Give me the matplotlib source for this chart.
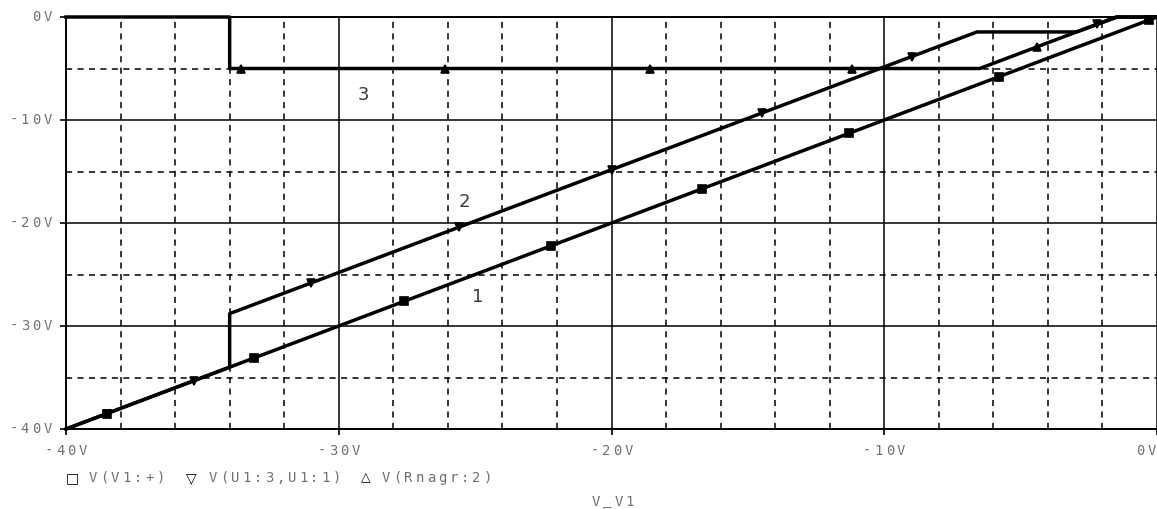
import numpy as np
import matplotlib
matplotlib.use("Agg")
import matplotlib.pyplot as plt
from matplotlib.ticker import MultipleLocator

# traza 1: V(V1:+)
x1 = [-40, 0]
y1 = [-40, 0]
# traza 2: V(U1:3,U1:1)
x2 = [-40, -34, -34, -6.6, -2.95, -1.45, 0]
y2 = [-40, -34, -28.8, -1.45, -1.45, 0, 0]
# traza 3: V(Rnagr:2)
x3 = [-40, -34, -34, -6.5, -1.5, 0]
y3 = [0, 0, -5, -5, 0, 0]

# posiciones de los marcadores (en V_V1)
m1 = [-38.5, -33.1, -27.6, -22.2, -16.7, -11.3, -5.8, -0.3]
m2 = [-38.5, -35.3, -31.0, -25.6, -20.0, -14.5, -9.0, -2.2]
m3 = [-33.6, -26.1, -18.6, -11.2, -4.4]

xticks = [-40, -30, -20, -10, 0]
yticks = [0, -10, -20, -30, -40]
xlabels = ["-40V", "-30V", "-20V", "-10V", "0V"]
ylabels = ["0V", "-10V", "-20V", "-30V", "-40V"]

W, H = 1157, 510
mono = "DejaVu Sans Mono"
gris = "#707070"

fig = plt.figure(figsize=(W / 100, H / 100), dpi=100)
ax = fig.add_axes([66 / W, 1 - 430 / H, 1 - 66 / W, 412 / H])
ax.set_xlim(-40, 0)
ax.set_ylim(-40, 0)


def spaced(xp, yp, s, ha="left", color=gris, pitch=11.3, size=10):
    # texto monoespaciado con letras separadas, como en PSpice
    n = len(s)
    if ha == "center":
        x0 = xp - n * pitch / 2
    elif ha == "right":
        x0 = xp - n * pitch
    else:
        x0 = xp
    for i, c in enumerate(s):
        fig.text((x0 + (i + 0.5) * pitch) / W, 1 - yp / H, c, ha="center",
                 va="center", family=mono, fontsize=size, color=color)


ax.xaxis.set_major_locator(MultipleLocator(10))
ax.xaxis.set_minor_locator(MultipleLocator(2))
ax.yaxis.set_major_locator(MultipleLocator(10))
ax.yaxis.set_minor_locator(MultipleLocator(5))
ax.grid(which="major", color="black", lw=1.1, ls="-")
ax.grid(which="minor", color="black", lw=1.1, ls=(0, (4, 3.5)))
ax.set_axisbelow(True)
ax.tick_params(which="major", length=4, width=1.2, color="black",
               labelbottom=False, labelleft=False)
ax.tick_params(which="minor", length=0)
for s in ax.spines.values():
    s.set_linewidth(1.4)
ax.spines["right"].set_visible(False)

# etiquetas de los ejes
for v, lab in zip(xticks, xlabels):
    px = ax.transData.transform((v, -40))[0]
    spaced(px, 451, lab, ha="right" if v == 0 else "center")
for v, lab in zip(yticks, ylabels):
    py = H - ax.transData.transform((-40, v))[1]
    spaced(53, py - 1, lab, ha="right")

lw = 2.5
ax.plot(x1, y1, color="black", lw=lw, clip_on=False)
ax.plot(x2, y2, color="black", lw=lw, clip_on=False)
ax.plot(x3, y3, color="black", lw=lw, clip_on=False)

y_m2 = [np.interp(v, x2[:2], y2[:2]) if v < -34 else np.interp(v, x2[2:], y2[2:]) for v in m2]
y_m3 = [np.interp(v, x3[2:], y3[2:]) for v in m3]
ax.plot(m1, np.interp(m1, x1, y1), ls="none", marker="s", ms=6,
        mfc="black", mec="black", mew=1.2, clip_on=False)
ax.plot(m2, y_m2, ls="none", marker="v", ms=6, mfc="black", mec="black",
        mew=1.2, clip_on=False)
ax.plot(m3, y_m3, ls="none", marker="^", ms=6, mfc="black", mec="black",
        mew=1.2, clip_on=False)

ax.text(-29.1, -7.5, "3", fontsize=13, color="#3a3a3a", ha="center", va="center")
ax.text(-25.4, -17.9, "2", fontsize=13, color="#3a3a3a", ha="center", va="center")
ax.text(-24.9, -27.1, "1", fontsize=13, color="#3a3a3a", ha="center", va="center")

# leyenda al estilo PSpice
ly = 478
fig.text(72 / W, 1 - ly / H, "\u25a1", family="DejaVu Sans", fontsize=10,
         color="black", ha="center", va="center")
spaced(87, ly, "V(V1:+)")
fig.text(191 / W, 1 - ly / H, "\u25bd", family="DejaVu Sans", fontsize=10,
         color="black", ha="center", va="center")
spaced(207, ly, "V(U1:3,U1:1)")
fig.text(366 / W, 1 - ly / H, "\u25b3", family="DejaVu Sans", fontsize=9,
         color="black", ha="center", va="center")
spaced(380, ly, "V(Rnagr:2)")
spaced(613, 502, "V_V1", ha="center")

fig.savefig("out.png", dpi=100)
